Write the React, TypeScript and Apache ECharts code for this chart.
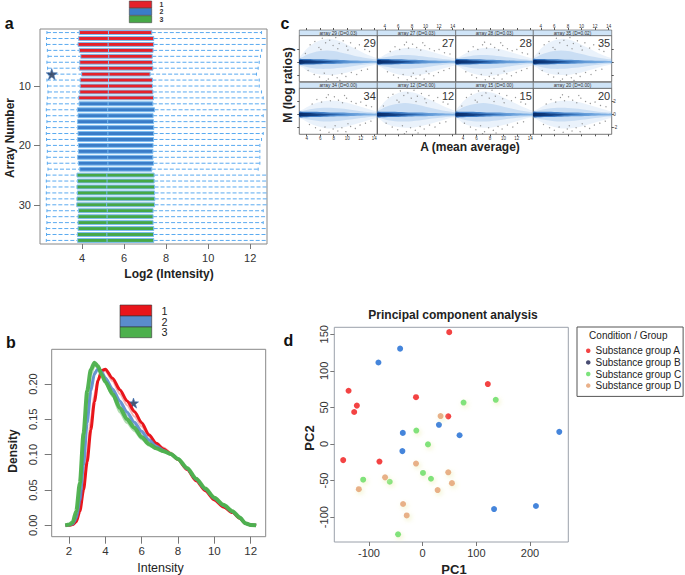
import React, { useEffect, useRef } from "react";
import * as echarts from "echarts";

const FONT = "'Liberation Sans', Arial, Helvetica, sans-serif";

// ---------------- Panel a : per-array boxplots ----------------
const arrayIds = [1,2,3,4,5,6,7,8,9,10,11,12,13,14,15,16,17,18,19,20,21,22,23,24,25,26,27,28,29,30,31,32,33,34,35,36];
const arrayGroup = [1,1,1,1,1,1,1,1,1,1,1,1,2,2,2,2,2,2,2,2,2,2,2,2,3,3,3,3,3,3,3,3,3,3,3,3];
const whiskerLow = [2.33,2.31,2.31,2.35,2.38,2.33,2.36,2.40,2.33,2.36,2.38,2.35,2.33,2.30,2.31,2.33,2.31,2.30,2.31,2.33,2.35,2.33,2.35,2.38,2.31,2.30,2.31,2.30,2.30,2.30,2.33,2.31,2.33,2.30,2.31,2.30];
const boxQ1 = [3.87,3.84,3.81,3.87,3.94,3.89,3.87,3.98,3.91,3.91,3.89,3.84,3.86,3.78,3.81,3.79,3.79,3.81,3.79,3.83,3.83,3.79,3.83,3.89,3.76,3.79,3.76,3.78,3.76,3.75,3.83,3.81,3.81,3.81,3.78,3.79];
const boxMedian = [5.26,5.25,5.24,5.26,5.27,5.26,5.25,5.28,5.26,5.26,5.25,5.24,5.24,5.22,5.23,5.22,5.22,5.23,5.22,5.23,5.23,5.22,5.23,5.25,5.18,5.19,5.18,5.18,5.17,5.17,5.20,5.19,5.19,5.19,5.18,5.19];
const boxQ3 = [7.32,7.41,7.41,7.38,7.34,7.35,7.37,7.24,7.35,7.35,7.37,7.40,7.37,7.45,7.38,7.40,7.41,7.41,7.40,7.38,7.37,7.37,7.40,7.32,7.43,7.43,7.45,7.45,7.46,7.45,7.38,7.38,7.38,7.41,7.40,7.41];
const whiskerHigh = [12.54,12.85,12.85,12.55,12.49,12.43,12.38,12.30,12.43,12.43,12.54,12.62,12.85,12.85,12.62,12.85,12.85,12.62,12.54,12.46,12.46,12.46,12.46,12.38,12.85,12.85,12.85,12.85,12.85,12.85,12.62,12.85,12.62,12.85,12.85,12.85];
const groupLabels = ["1", "2", "3"];
const starA = [2.56, 8];
const aXTicks = [4, 6, 8, 10, 12];
const aYTicks = [10, 20, 30];

// ---------------- Panel b : density curves ----------------
const densX = [1.8,2.0,2.2,2.4,2.6,2.8,3.0,3.2,3.4,3.6,3.8,4.0,4.4,4.8,5.2,5.6,6.0,6.4,6.8,7.2,7.6,8.0,8.5,9.0,9.5,10.0,10.5,11.0,11.4,11.7,12.0,12.3];
const densRed = [0,0,0.001,0.005,0.02,0.05,0.09,0.135,0.175,0.205,0.219,0.221,0.208,0.192,0.176,0.161,0.145,0.128,0.116,0.108,0.101,0.093,0.079,0.063,0.049,0.036,0.026,0.018,0.01,0.003,0.0005,0];
const densRedAlt = [0,0,0.001,0.006,0.025,0.06,0.105,0.15,0.185,0.208,0.219,0.218,0.204,0.186,0.17,0.154,0.14,0.126,0.117,0.11,0.103,0.094,0.08,0.064,0.05,0.037,0.027,0.018,0.01,0.003,0.0005,0];
const densBlue = [0,0.0005,0.002,0.01,0.035,0.085,0.145,0.19,0.214,0.222,0.217,0.209,0.193,0.176,0.16,0.146,0.133,0.121,0.112,0.106,0.101,0.094,0.08,0.065,0.051,0.038,0.028,0.019,0.011,0.003,0.0005,0];
const densBlueAlt = [0,0.0005,0.002,0.012,0.04,0.095,0.155,0.198,0.217,0.221,0.214,0.205,0.19,0.172,0.156,0.143,0.13,0.119,0.111,0.106,0.101,0.094,0.081,0.066,0.051,0.038,0.028,0.019,0.011,0.003,0.0005,0];
const densGreen = [0,0.001,0.004,0.02,0.06,0.13,0.19,0.22,0.23,0.225,0.213,0.203,0.186,0.166,0.15,0.138,0.125,0.115,0.109,0.105,0.101,0.094,0.081,0.066,0.052,0.039,0.029,0.02,0.011,0.003,0.0005,0];
const densGreenAlt = [0,0.001,0.003,0.016,0.05,0.115,0.178,0.213,0.226,0.224,0.214,0.203,0.183,0.16,0.145,0.134,0.122,0.113,0.108,0.104,0.1,0.094,0.081,0.066,0.052,0.04,0.029,0.02,0.011,0.003,0.0005,0];
const starB = [5.55, 0.173];
const bXTicks = [2, 4, 6, 8, 10, 12];
const bYTicks = [0, 0.05, 0.1, 0.15, 0.2];

// ---------------- Panel c : MA plots ----------------
const maArrays = ["29", "27", "28", "35", "34", "12", "15", "20"];
const maD = ["0.03", "0.03", "0.03", "0.02", "0.00", "0.00", "0.00", "0.00"];
const maShape = ["wide", "narrow", "narrow", "wide", "narrow", "wide", "wide", "narrow"];
const maA = [2.9, 3.5, 4, 5, 6, 7, 8, 9, 10, 11, 12, 13, 14, 14.45];
const haloUpW = [0.6, 1.4, 2.0, 2.8, 3.3, 3.5, 3.4, 3.1, 2.6, 2.1, 1.6, 1.1, 0.7, 0.5];
const haloLoW = [-0.5, -0.9, -1.3, -1.7, -1.9, -2.0, -2.0, -1.8, -1.6, -1.3, -1.0, -0.7, -0.45, -0.35];
const midUpW = [0.5, 0.8, 1.1, 1.45, 1.65, 1.75, 1.65, 1.45, 1.2, 0.95, 0.75, 0.55, 0.4, 0.32];
const midLoW = [-0.45, -0.6, -0.75, -0.95, -1.05, -1.05, -1.0, -0.9, -0.75, -0.6, -0.48, -0.36, -0.28, -0.24];
const haloUpN = [0.5, 0.8, 1.1, 1.6, 1.9, 2.1, 2.1, 2.0, 1.8, 1.5, 1.2, 0.9, 0.6, 0.45];
const haloLoN = [-0.5, -0.8, -1.1, -1.6, -1.9, -2.1, -2.1, -2.0, -1.8, -1.5, -1.2, -0.9, -0.6, -0.45];
const midUpN = [0.45, 0.6, 0.7, 0.88, 1.0, 1.05, 1.0, 0.92, 0.8, 0.66, 0.52, 0.4, 0.3, 0.25];
const midLoN = [-0.45, -0.6, -0.7, -0.88, -1.0, -1.05, -1.0, -0.92, -0.8, -0.66, -0.52, -0.4, -0.3, -0.25];
const coreUp = [0.42, 0.44, 0.44, 0.42, 0.4, 0.37, 0.33, 0.3, 0.27, 0.23, 0.2, 0.17, 0.14, 0.13];
const coreLo = [-0.38, -0.4, -0.4, -0.38, -0.36, -0.33, -0.3, -0.27, -0.24, -0.21, -0.18, -0.15, -0.13, -0.12];
const darkUp = [0.25, 0.26, 0.25, 0.22, 0.18, 0.14, 0.11, 0.08, 0.06, 0.05, 0.04, 0.03, 0.03, 0.03];
const darkLo = [-0.25, -0.26, -0.25, -0.22, -0.18, -0.14, -0.11, -0.08, -0.06, -0.05, -0.04, -0.03, -0.03, -0.03];
const dotsWide = [[4.5,2.6],[5.2,3.1],[5.8,2.2],[6.3,3.6],[6.8,2.9],[7.4,3.3],[7.9,2.5],[8.3,3.7],[8.8,2.8],[9.4,3.2],[9.9,2.4],[10.5,2.9],[11.2,2.1],[11.8,2.6],[12.6,1.9],[13.3,1.6],[6.1,1.9],[8.6,2.0],[10.1,1.8],[4.2,-1.3],[5.1,-1.9],[5.9,-2.3],[6.6,-1.7],[7.2,-2.6],[7.8,-2.0],[8.5,-2.4],[9.2,-1.8],[9.8,-2.2],[10.6,-1.6],[11.4,-1.9],[12.1,-1.3],[13.0,-1.1],[6.9,-2.9],[8.9,-2.8],[3.8,1.3],[12.9,2.4]];
const dotsNarrow = [[4.8,1.6],[5.5,2.3],[6.2,1.9],[6.9,2.6],[7.5,2.1],[8.1,2.7],[8.7,2.2],[9.3,1.8],[9.9,2.5],[10.6,2.0],[11.3,1.7],[12.0,1.9],[12.8,1.4],[13.6,1.2],[7.2,3.0],[9.6,2.9],[4.4,-1.5],[5.3,-2.0],[6.0,-2.4],[6.7,-1.9],[7.3,-2.7],[7.9,-2.2],[8.6,-2.5],[9.2,-2.0],[9.8,-2.6],[10.5,-1.8],[11.2,-2.1],[11.9,-1.6],[12.7,-1.3],[13.5,-1.0],[8.2,-1.7],[10.1,-1.4]];
const cXTicks = [4, 6, 8, 10, 12, 14];
const cYTicks = [-2, 0, 2];

// ---------------- Panel d : PCA ----------------
const pcaGroups = ["Substance group A", "Substance group B", "Substance group C", "Substance group D"];
const pcaA = [[49.5,153],[121.4,82],[-138,72.8],[-122.6,52.5],[-127.6,43.8],[-12.4,64],[47.7,37.8],[-148,-22],[-80.5,-24]];
const pcaB = [[-42,130.4],[-82.4,111.5],[-37,15.2],[-37.8,-9.7],[30.3,26.3],[68.7,12],[254.5,16.6],[133,-89],[211,-84.8]];
const pcaC = [[76.2,56.7],[136.2,60.4],[-11.8,18.4],[9.9,-0.5],[0.6,-39.6],[15.5,-47.5],[-110.8,-48.8],[-61.3,-51.6],[-45.8,-123.5]];
const pcaD = [[33.4,38.2],[-12.4,-26.7],[47.7,-38.7],[54.5,-53.5],[27.9,-63],[-70,-45.6],[-118.9,-61.8],[-36.5,-82],[-29.7,-97.7]];
const dXTicks = [-100, 0, 100, 200];
const dYTicks = [-100, -50, 0, 50, 100, 150];

// ---------------- styles / layout ----------------
const BOX_COLORS = ["#e5212a", "#3a7cc8", "#46a846"];
const BOX_EDGE = "#7dbdf0";
const WHISK = "#5aaaf0";
const CURVE = { red: "#e8151b", blue: "#5a8ccc", green: "#4cb04c" };
const PCA_COLORS = ["#f01414", "#1767d2", "#5bdc5b", "#e49c6c"];
const PCA_LEGEND_COLORS = ["#f01414", "#1c214f", "#5bdc5b", "#e49c6c"];
const hGrad = (stops: [number, string][]) => ({
  type: "linear", x: 0, y: 0, x2: 1, y2: 0,
  colorStops: stops.map(([offset, color]) => ({ offset, color })),
});
const BAND_FILLS: any[] = [
  "rgba(150,190,235,0.2)",
  "rgba(100,160,222,0.24)",
  hGrad([[0, "rgba(20,90,178,0.85)"], [0.5, "rgba(40,115,198,0.72)"], [1, "rgba(80,150,220,0.55)"]]),
  hGrad([[0, "rgba(4,38,98,0.92)"], [0.35, "rgba(8,55,125,0.7)"], [0.7, "rgba(30,100,180,0.1)"], [1, "rgba(30,100,180,0)"]]),
];
const STAR = "path://M12,0 L14.9,8.6 L24,8.8 L16.7,14.2 L19.4,23 L12,17.7 L4.6,23 L7.3,14.2 L0,8.8 L9.1,8.6 Z";

const GA = { left: 40, top: 29, width: 227, height: 215 };
const GB = { left: 51.7, top: 349.3, width: 214, height: 187.4 };
const GD = { left: 334.3, top: 327.3, width: 234, height: 214.7 };
const C_COLS = [299.3, 377.3, 455.7, 533.3];
const C_W = [78, 78.4, 77.6, 78.4];
const C_ROWS = [{ strip: 30, top: 35.6, bottom: 81.7 }, { strip: 82.4, top: 88.3, bottom: 134.3 }];

const pairs = (xs: number[], ys: number[]) => xs.map((x, i) => [x, ys[i]]);

function baseAxis(gridIndex: number, min: number, max: number, ticks: number[], o: any = {}) {
  const lab = o.label || {};
  return {
    type: "value",
    gridIndex,
    min,
    max,
    position: o.position,
    offset: o.offset || 0,
    inverse: !!o.inverse,
    axisLine: { show: false, onZero: false },
    splitLine: { show: false },
    axisTick: {
      show: o.tick !== false,
      length: o.tickLen || 5,
      lineStyle: { color: o.tickColor || "#777", width: 1 },
      customValues: ticks,
    },
    axisLabel: {
      show: o.showLabel !== false,
      customValues: ticks,
      fontSize: lab.fontSize || 11,
      fontFamily: FONT,
      color: lab.color || "#333",
      margin: lab.margin ?? 6,
      rotate: lab.rotate || 0,
      lineHeight: lab.fontSize || 11,
      formatter: lab.formatter,
    },
  };
}

function text(t: string, x: number, y: number, size: number, o: any = {}) {
  return {
    type: "text",
    x,
    y,
    rotation: o.rotation || 0,
    silent: true,
    style: {
      text: t,
      x: 0,
      y: 0,
      fontSize: size,
      lineHeight: o.lineHeight || size,
      fontFamily: FONT,
      fontWeight: o.weight || "normal",
      fill: o.color || "#222",
      align: o.align || "center",
      verticalAlign: o.valign || "middle",
    },
  };
}

function buildOption() {
  const grids: any[] = [];
  const xAxes: any[] = [];
  const yAxes: any[] = [];
  const series: any[] = [];
  const graphics: any[] = [];

  // ---- panel a ----
  grids.push({ ...GA, show: true, borderColor: "#888", borderWidth: 1, backgroundColor: "transparent", outerBoundsMode: "none" });
  xAxes.push(baseAxis(0, 2, 12.8, aXTicks, { position: "bottom", tickLen: 5, label: { fontSize: 11, margin: 8 } }));
  yAxes.push(baseAxis(0, 0.4, 36.6, aYTicks, { position: "left", inverse: true, tickLen: 6, label: { fontSize: 11, margin: 9 } }));
  series.push({
    type: "custom",
    xAxisIndex: 0,
    yAxisIndex: 0,
    clip: true,
    encode: { x: [1, 2, 3, 4, 5], y: 0 },
    data: arrayIds.map((id, i) => [id, whiskerLow[i], boxQ1[i], boxMedian[i], boxQ3[i], whiskerHigh[i], arrayGroup[i]]),
    renderItem: (_p: any, api: any) => {
      const id = api.value(0);
      const pl = api.coord([api.value(1), id]);
      const p1 = api.coord([api.value(2), id]);
      const pm = api.coord([api.value(3), id]);
      const p3 = api.coord([api.value(4), id]);
      const ph = api.coord([api.value(5), id]);
      const g = api.value(6);
      const rowH = Math.abs(api.size([0, 1])[1]);
      const h = rowH * 0.66;
      const y = pl[1];
      const ws = { stroke: WHISK, lineWidth: 1, lineDash: [4, 2] };
      return {
        type: "group",
        children: [
          { type: "line", shape: { x1: pl[0], y1: y, x2: p1[0], y2: y }, style: ws },
          { type: "line", shape: { x1: p3[0], y1: y, x2: ph[0], y2: y }, style: ws },
          { type: "line", shape: { x1: pl[0], y1: y - 1.5, x2: pl[0], y2: y + 1.5 }, style: { stroke: WHISK, lineWidth: 1 } },
          { type: "line", shape: { x1: ph[0], y1: y - 1.5, x2: ph[0], y2: y + 1.5 }, style: { stroke: WHISK, lineWidth: 1 } },
          { type: "rect", shape: { x: p1[0], y: y - h / 2, width: p3[0] - p1[0], height: h }, style: { fill: BOX_COLORS[g - 1], stroke: BOX_EDGE, lineWidth: 1 } },
          { type: "line", shape: { x1: pm[0], y1: y - h / 2, x2: pm[0], y2: y + h / 2 }, style: { stroke: BOX_EDGE, lineWidth: 1 } },
        ],
      };
    },
  });
  series.push({
    type: "scatter",
    xAxisIndex: 0,
    yAxisIndex: 0,
    symbol: STAR,
    symbolSize: 11,
    itemStyle: { color: "#1c2d4f", borderColor: "#3a6fb5", borderWidth: 0.8 },
    data: [starA],
    silent: true,
  });

  // ---- panel b ----
  grids.push({ ...GB, show: true, borderColor: "#888", borderWidth: 1, backgroundColor: "transparent", outerBoundsMode: "none" });
  xAxes.push(baseAxis(1, 1.048, 12.826, bXTicks, { position: "bottom", tickLen: 7, label: { fontSize: 11.5, margin: 9 } }));
  yAxes.push(baseAxis(1, -0.0161, 0.2491, bYTicks, { position: "left", tickLen: 7, label: { fontSize: 11, margin: 13, rotate: 90, formatter: (v: number) => v.toFixed(2) } }));
  const curve = (ys: number[], color: string, width: number, opacity: number) => ({
    type: "line",
    xAxisIndex: 1,
    yAxisIndex: 1,
    smooth: 0.25,
    smoothMonotone: "x",
    symbol: "none",
    silent: true,
    lineStyle: { color, width, opacity, join: "round" },
    data: pairs(densX, ys),
  });
  series.push(curve(densBlueAlt, CURVE.blue, 2, 0.5));
  series.push(curve(densRedAlt, "#f08080", 2, 0.6));
  series.push(curve(densRed, CURVE.red, 3, 1));
  series.push(curve(densBlue, CURVE.blue, 3, 0.9));
  series.push(curve(densGreenAlt, "#7cc67c", 2.5, 0.6));
  series.push(curve(densGreen, CURVE.green, 4, 0.95));
  series.push({
    type: "scatter",
    xAxisIndex: 1,
    yAxisIndex: 1,
    symbol: STAR,
    symbolSize: 10,
    itemStyle: { color: "#1c2d4f", borderColor: "#3a6fb5", borderWidth: 0.8 },
    data: [starB],
    silent: true,
  });

  // ---- panel c ----
  for (let i = 0; i < 8; i++) {
    const row = i < 4 ? 0 : 1;
    const col = i % 4;
    const R = C_ROWS[row];
    const gi = 2 + i;
    grids.push({
      left: C_COLS[col],
      top: R.top,
      width: C_W[col],
      height: R.bottom - R.top,
      show: true,
      borderColor: "#555",
      borderWidth: 0.8,
      backgroundColor: "transparent",
      outerBoundsMode: "none",
    });
    const cLab = { fontSize: 4.5, margin: 1.5, color: "#333" };
    xAxes.push(
      baseAxis(gi, 2.9, 14.45, cXTicks, {
        position: row === 0 ? "top" : "bottom",
        offset: row === 0 ? R.top - R.strip : 0,
        tickLen: 2,
        tickColor: "#555",
        showLabel: row === 0 ? col === 1 || col === 3 : col === 0 || col === 2,
        label: cLab,
      })
    );
    yAxes.push(
      baseAxis(gi, -3, 4, cYTicks, {
        position: col === 3 ? "right" : "left",
        tick: col === 0 || col === 3,
        tickLen: 2,
        tickColor: "#555",
        showLabel: col === 3 && row === 1,
        label: cLab,
      })
    );
    const wide = maShape[i] === "wide";
    const ups = [wide ? haloUpW : haloUpN, wide ? midUpW : midUpN, coreUp, darkUp];
    const los = [wide ? haloLoW : haloLoN, wide ? midLoW : midLoN, coreLo, darkLo];
    series.push({
      type: "custom",
      xAxisIndex: gi,
      yAxisIndex: gi,
      clip: true,
      silent: true,
      data: [0, 1, 2, 3].map((l) => [8, 0, l]),
      renderItem: (_p: any, api: any) => {
        const lvl = api.value(2);
        const up = ups[lvl];
        const lo = los[lvl];
        const pts: number[][] = [];
        for (let k = 0; k < maA.length; k++) pts.push(api.coord([maA[k], up[k]]));
        for (let k = maA.length - 1; k >= 0; k--) pts.push(api.coord([maA[k], lo[k]]));
        return { type: "polygon", shape: { points: pts, smooth: 0.35 }, style: { fill: BAND_FILLS[lvl] } };
      },
    });
    series.push({
      type: "scatter",
      xAxisIndex: gi,
      yAxisIndex: gi,
      symbolSize: 1.3,
      silent: true,
      itemStyle: { color: "#7a7a7a" },
      data: wide ? dotsWide : dotsNarrow,
    });
    graphics.push({
      type: "rect",
      silent: true,
      shape: { x: C_COLS[col], y: R.strip, width: C_W[col], height: R.top - R.strip },
      style: { fill: "#cfe4f7", stroke: "#555", lineWidth: 0.6 },
    });
    graphics.push(text(`array ${maArrays[i]} (D=${maD[i]})`, C_COLS[col] + C_W[col] / 2, (R.strip + R.top) / 2 + 0.3, 4.8, { color: "#333" }));
    graphics.push(text(maArrays[i], C_COLS[col] + C_W[col] - 1.5, R.top + 7.6, 11, { align: "right", color: "#333" }));
  }

  // ---- panel d ----
  grids.push({ ...GD, show: true, borderColor: "#9aa0aa", borderWidth: 1, backgroundColor: "transparent", outerBoundsMode: "none" });
  xAxes.push(baseAxis(10, -164.6, 271.3, dXTicks, { position: "bottom", tickLen: 4, label: { fontSize: 11, margin: 5.5 } }));
  yAxes.push(baseAxis(10, -134, 159.6, dYTicks, { position: "left", tickLen: 4, label: { fontSize: 11, margin: 5, rotate: 90 } }));
  const pcaData = [pcaA, pcaB, pcaC, pcaD];
  pcaData.forEach((d, gidx) => {
    const halo = gidx >= 2;
    series.push({
      type: "scatter",
      name: pcaGroups[gidx],
      xAxisIndex: 10,
      yAxisIndex: 10,
      symbolSize: 6,
      data: d,
      itemStyle: halo
        ? { color: PCA_COLORS[gidx], shadowColor: "rgba(236,238,180,0.95)", shadowBlur: 5, shadowOffsetX: 1.5, shadowOffsetY: 2 }
        : { color: PCA_COLORS[gidx] },
    });
  });

  // ---- graphic texts ----
  graphics.push(text("a", 9.2, 23, 16, { weight: "bold", color: "#111" }));
  graphics.push(text("b", 10.8, 342, 16, { weight: "bold", color: "#111" }));
  graphics.push(text("c", 285, 23.4, 16, { weight: "bold", color: "#111" }));
  graphics.push(text("d", 288.5, 340.5, 16, { weight: "bold", color: "#111" }));

  graphics.push(text("Array Number", 9.5, 138, 12, { weight: "bold", rotation: Math.PI / 2 }));
  graphics.push(text("Log2 (Intensity)", 169, 274, 12, { weight: "bold" }));
  graphics.push(text("Density", 13, 451, 12, { weight: "bold", rotation: Math.PI / 2 }));
  graphics.push(text("Intensity", 160.5, 568, 12.5, { color: "#222" }));
  graphics.push(text("M (log ratios)", 288, 85, 12, { weight: "bold", rotation: Math.PI / 2 }));
  graphics.push(text("A (mean average)", 470, 147, 12, { weight: "bold" }));
  graphics.push(text("Principal component analysis", 453, 314.5, 12, { weight: "bold" }));
  graphics.push(text("PC1", 454, 569, 13, { weight: "bold" }));
  graphics.push(text("PC2", 309, 438, 13, { weight: "bold", rotation: Math.PI / 2 }));
  graphics.push(text("Condition / Group", 628.3, 335.7, 10, { color: "#222" }));

  const swA = [[1, 8], [8.3, 15.3], [15.7, 22.7]];
  swA.forEach((s, k) => {
    graphics.push({ type: "rect", silent: true, shape: { x: 129.3, y: s[0], width: 22.4, height: s[1] - s[0] }, style: { fill: BOX_COLORS[k], stroke: "#444", lineWidth: 0.6 } });
    graphics.push(text(groupLabels[k], 161.5, (s[0] + s[1]) / 2, 7, { weight: "bold", color: "#333", lineHeight: 7 }));
  });
  const swB = [[305, 316], [316, 327], [327, 337.7]];
  const bCols = [CURVE.red, CURVE.blue, CURVE.green];
  swB.forEach((s, k) => {
    graphics.push({ type: "rect", silent: true, shape: { x: 120, y: s[0], width: 31.7, height: s[1] - s[0] }, style: { fill: bCols[k], stroke: "#333", lineWidth: 0.6 } });
    graphics.push(text(groupLabels[k], 164.5, (s[0] + s[1]) / 2, 10.8, { color: "#222", lineHeight: 10.5 }));
  });

  return {
    animation: false,
    backgroundColor: "#ffffff",
    textStyle: { fontFamily: FONT },
    grid: grids,
    xAxis: xAxes,
    yAxis: yAxes,
    series,
    legend: {
      show: true,
      orient: "vertical",
      left: 577,
      top: 327,
      padding: [18, 2, 5, 9],
      borderColor: "#555",
      borderWidth: 1,
      itemGap: 0,
      itemWidth: 4.5,
      itemHeight: 4.5,
      icon: "circle",
      selectedMode: false,
      textStyle: { fontSize: 10, fontFamily: FONT, color: "#222", lineHeight: 11.6 },
      data: pcaGroups.map((n, k) => ({ name: n, itemStyle: { color: PCA_LEGEND_COLORS[k] } })),
    },
    graphic: { elements: graphics },
  };
}

export default function App() {
  const ref = useRef<HTMLDivElement>(null);
  useEffect(() => {
    const chart = echarts.init(ref.current as HTMLDivElement, undefined, { renderer: "svg" });
    chart.setOption(buildOption() as any);
    return () => chart.dispose();
  }, []);
  return (
    <div
      ref={ref}
      style={{ position: "absolute", left: 0, top: 0, width: 685, height: 575, background: "#fff" }}
    />
  );
}
